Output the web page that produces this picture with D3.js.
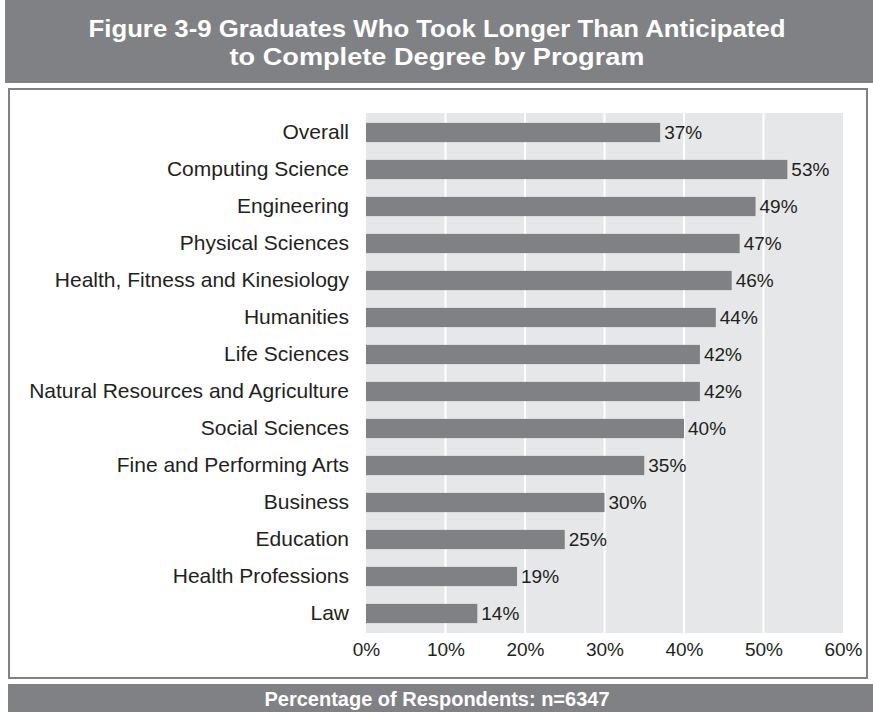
<!DOCTYPE html>
<html>
<head>
<meta charset="utf-8">
<script src="https://cdn.jsdelivr.net/npm/d3@7"></script>
<style>
  html, body { margin: 0; padding: 0; background: #fff; }
  svg { display: block; font-family: "Liberation Sans", Arial, Helvetica, sans-serif; }
</style>
</head>
<body>
<svg id="chart" width="873" height="712"></svg>
<script>
// Programs, top to bottom
const programs = [
  "Overall",
  "Computing Science",
  "Engineering",
  "Physical Sciences",
  "Health, Fitness and Kinesiology",
  "Humanities",
  "Life Sciences",
  "Natural Resources and Agriculture",
  "Social Sciences",
  "Fine and Performing Arts",
  "Business",
  "Education",
  "Health Professions",
  "Law"
];
// Share of graduates (%) who took longer than anticipated
const percentages = [37, 53, 49, 47, 46, 44, 42, 42, 40, 35, 30, 25, 19, 14];
const tickValues = [0, 10, 20, 30, 40, 50, 60];

const titleLines = [
  "Figure 3-9 Graduates Who Took Longer Than Anticipated",
  "to Complete Degree by Program"
];
const titleWidths = [697, 415];
const footerText = "Percentage of Respondents: n=6347";

const W = 873, H = 712;
const bandGrey = "#808184", plotBg = "#e6e7e8", barGrey = "#808184", ink = "#231f20";

const svg = d3.select("#chart");

// Title banner
svg.append("rect").attr("x", 5).attr("y", 0).attr("width", W - 5).attr("height", 83).attr("fill", bandGrey);
svg.append("g").selectAll("text").data(titleLines).join("text")
  .attr("x", 437).attr("y", (d, i) => 37 + i * 28)
  .attr("text-anchor", "middle")
  .attr("fill", "#fff").attr("font-weight", "bold").attr("font-size", 24)
  .attr("textLength", (d, i) => titleWidths[i])
  .attr("lengthAdjust", "spacingAndGlyphs")
  .text(d => d);

// Frame around the chart
svg.append("rect").attr("x", 9).attr("y", 89).attr("width", 858).attr("height", 589)
  .attr("fill", "#fff").attr("stroke", "#808184").attr("stroke-width", 2);

// Footer banner
svg.append("rect").attr("x", 8).attr("y", 684).attr("width", W - 8).attr("height", 28).attr("fill", bandGrey);
svg.append("text").attr("x", 437).attr("y", 706)
  .attr("text-anchor", "middle").attr("fill", "#fff").attr("font-weight", "bold").attr("font-size", 20)
  .text(footerText);

// Plot area
const x = d3.scaleLinear().domain([0, 60]).range([366, 843]);
const y = d3.scaleBand().domain(programs).range([114, 632]).paddingInner(0.48).paddingOuter(0.24);

svg.append("rect").attr("x", x(0)).attr("y", 113).attr("width", x(60) - x(0)).attr("height", 520).attr("fill", plotBg);

// Vertical gridlines
svg.append("g").selectAll("line").data(tickValues.slice(1, -1)).join("line")
  .attr("x1", d => x(d)).attr("x2", d => x(d)).attr("y1", 113).attr("y2", 633)
  .attr("stroke", "#fff").attr("stroke-width", 2);

// Bars
svg.append("g").selectAll("rect").data(percentages).join("rect")
  .attr("x", x(0)).attr("y", (d, i) => y(programs[i]))
  .attr("width", d => x(d) - x(0)).attr("height", y.bandwidth())
  .attr("fill", barGrey);

// Value labels
svg.append("g").selectAll("text").data(percentages).join("text")
  .attr("x", d => x(d) + 4).attr("y", (d, i) => y(programs[i]) + y.bandwidth() / 2)
  .attr("dy", "0.35em").attr("fill", ink).attr("font-size", 19)
  .text(d => d + "%");

// Category axis
const yAxis = svg.append("g").attr("transform", `translate(${x(0)},0)`)
  .call(d3.axisLeft(y).tickSize(0).tickPadding(17));
yAxis.select(".domain").remove();
yAxis.selectAll("text").attr("fill", ink).attr("font-size", 21).attr("font-family", "Liberation Sans, Arial, sans-serif");

// Value axis
const xAxis = svg.append("g").attr("transform", "translate(0,633)")
  .call(d3.axisBottom(x).tickValues(tickValues).tickSize(0).tickPadding(10).tickFormat(d => d + "%"));
xAxis.select(".domain").remove();
xAxis.selectAll("text").attr("fill", ink).attr("font-size", 19).attr("font-family", "Liberation Sans, Arial, sans-serif");
</script>
</body>
</html>
